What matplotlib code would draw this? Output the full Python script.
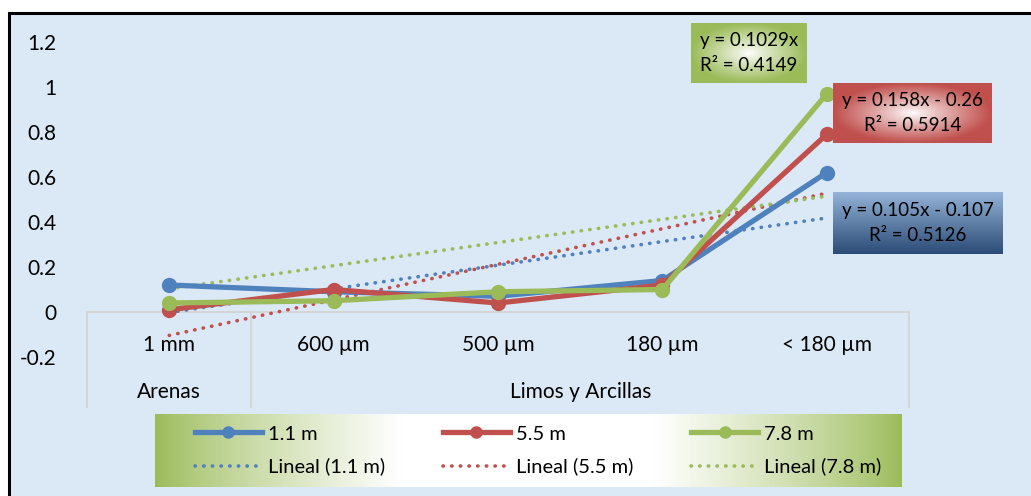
import numpy as np
import matplotlib.pyplot as plt
from matplotlib.lines import Line2D

plt.rcParams['font.family'] = ['Lato', 'DejaVu Sans']

# datos de granulometria por profundidad
tamanos = ['1 mm', '600 µm', '500 µm', '180 µm', '< 180 µm']
grupos = ['Arenas', 'Limos y Arcillas']
prof_11 = [0.12, 0.09, 0.07, 0.14, 0.62]
prof_55 = [0.01, 0.10, 0.04, 0.12, 0.79]
prof_78 = [0.04, 0.05, 0.09, 0.10, 0.97]
series = ['1.1 m', '5.5 m', '7.8 m']
ecuaciones = ['y = 0.105x - 0.107\nR² = 0.5126',
              'y = 0.158x - 0.26\nR² = 0.5914',
              'y = 0.1029x\nR² = 0.4149']

azul, rojo, verde = '#4f81bd', '#c0504d', '#9bbb59'
W, H = 1031, 496


def px_axes(fig, x0, y0, x1, y1, **kw):
    # axes placed with pixel coords measured from the top-left corner
    return fig.add_axes([x0 / W, 1 - y1 / H, (x1 - x0) / W, (y1 - y0) / H], **kw)


def rgb(c):
    c = c.lstrip('#')
    return np.array([int(c[i:i + 2], 16) for i in (0, 2, 4)]) / 255.0


fig = plt.figure(figsize=(W / 100, H / 100), dpi=100)

# fondo azul con marco negro
bg = fig.add_axes([0, 0, 1, 1], zorder=0)
bg.set_xlim(0, W)
bg.set_ylim(H, 0)
bg.axis('off')
bg.add_patch(plt.Rectangle((9, 13), W + 20, H + 20, facecolor='#dbe8f5',
                           edgecolor='black', linewidth=2.2))

ax = px_axes(fig, 87, 42, 909, 357, zorder=2)
ax.set_facecolor('none')
x = np.arange(len(tamanos))

# lineas de tendencia (la de 7.8 m pasa por el origen)
xx = np.array([1, 5], dtype=float)
for datos, color, origen in [(prof_11, azul, False), (prof_55, rojo, False), (prof_78, verde, True)]:
    d = np.array(datos)
    k = x + 1.0
    if origen:
        m, b = (k @ d) / (k @ k), 0.0
    else:
        m, b = np.polyfit(k, d, 1)
    ax.plot(xx - 1, m * xx + b, color=color, lw=2.6, linestyle=(0, (0.1, 2.3)),
            dash_capstyle='round', zorder=3)

for datos, color in [(prof_11, azul), (prof_55, rojo), (prof_78, verde)]:
    ax.plot(x, datos, color=color, lw=3.8, marker='o', markersize=10,
            solid_joinstyle='round', zorder=4)

ax.set_xlim(-0.5, 4.5)
ax.set_ylim(-0.2, 1.2)
ax.set_yticks(np.arange(-0.2, 1.21, 0.2))
ax.set_yticklabels(['-0.2', '0', '0.2', '0.4', '0.6', '0.8', '1', '1.2'])
ax.tick_params(axis='y', length=0, pad=22, labelsize=15)
ax.set_xticks([])
for s in ax.spines.values():
    s.set_visible(False)

# eje de categorias en dos niveles
gris = '#d4d4d4'
ax.plot([-0.5, 4.5], [0, 0], color=gris, lw=1.3, zorder=1, clip_on=False)
for xv in [-0.5, 0.5, 4.5]:
    ax.plot([xv, xv], [0, -0.422], color=gris, lw=1.3, zorder=1, clip_on=False)
for i, t in enumerate(tamanos):
    ax.text(i, -0.147, t, ha='center', va='center', fontsize=15, clip_on=False)
ax.text(0, -0.356, grupos[0], ha='center', va='center', fontsize=15)
ax.text(2.5, -0.356, grupos[1], ha='center', va='center', fontsize=15)

# cuadros de ecuaciones
def cuadro(x0, y0, x1, y1, img, texto):
    a = px_axes(fig, x0, y0, x1, y1, zorder=5)
    a.imshow(img, aspect='auto', extent=[0, 1, 0, 1], interpolation='bilinear')
    a.axis('off')
    a.text(0.5, 0.5, texto, ha='center', va='center', fontsize=13.5,
           linespacing=1.55, transform=a.transAxes)


def radial(color, n=120):
    u, v = np.meshgrid(np.linspace(-1, 1, n), np.linspace(-1, 1, n))
    r = np.clip(np.sqrt(u ** 2 + v ** 2), 0, 1)[..., None] ** 0.9
    return (1 - r) * np.ones(3) + r * rgb(color)


cuadro(691, 23, 807, 83, radial('#9bbb59'), ecuaciones[2])
cuadro(833, 83, 992, 143, radial('#c0504d'), ecuaciones[1])
t = np.linspace(0, 1, 100)[:, None, None]
cuadro(833, 192, 1003, 254, (1 - t) * rgb('#95b3d7') + t * rgb('#2b4c77'), ecuaciones[0])

# leyenda con degradado verde-blanco-verde
lg = px_axes(fig, 155, 414, 902, 487, zorder=5)
s = np.linspace(0, 1, 300)
w = np.clip(np.minimum(s / 0.33, (1 - s) / 0.33), 0, 1)[None, :, None] ** 0.8
lg.imshow(w * np.ones(3) + (1 - w) * rgb('#9bbb59'), aspect='auto',
          extent=[0, 1, 0, 1], interpolation='bilinear')
lg.axis('off')

handles, labels = [], []
for nombre, color in zip(series, [azul, rojo, verde]):
    handles.append(Line2D([], [], color=color, lw=3.8, marker='o', markersize=8))
    labels.append(nombre)
    handles.append(Line2D([], [], color=color, lw=2.6, linestyle=(0, (0.1, 2.3)),
                          dash_capstyle='round'))
    labels.append('Lineal (' + nombre + ')')
leg = lg.legend(handles, labels, ncol=3, loc='center left', bbox_to_anchor=(0.043, 0.5),
                frameon=False, fontsize=14.5, handlelength=3.3, handletextpad=0.3,
                columnspacing=2.9, labelspacing=0.75, borderaxespad=0)

fig.savefig('out.png', dpi=100)
